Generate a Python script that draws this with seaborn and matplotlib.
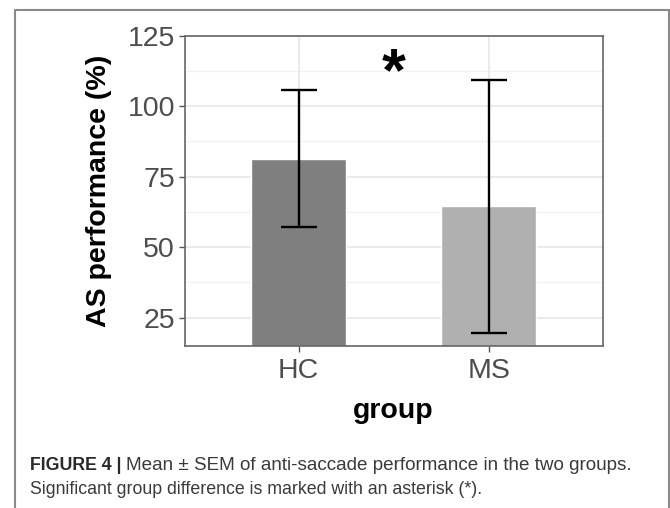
import matplotlib
matplotlib.use("Agg")
import matplotlib.pyplot as plt
import seaborn as sns
import pandas as pd
from matplotlib.lines import Line2D

groups = ["HC", "MS"]
means = [81.3, 64.5]
sems = [24.3, 44.8]
bar_colors = ["#7f7f7f", "#b0b0b0"]
yticks = [25, 50, 75, 100, 125]
minor_ticks = [37.5, 62.5, 87.5, 112.5]
star_label = "*"
x_title = "group"
y_title = "AS performance (%)"
cap_bold = "FIGURE 4 | "
cap_line1 = "Mean \u00b1 SEM of anti-saccade performance in the two groups."
cap_line2 = "Significant group difference is marked with an asterisk (*)."

sns.set_theme(style="white")
plt.rcParams["font.family"] = ["Liberation Sans", "DejaVu Sans"]

df = pd.DataFrame({"group": groups, "mean": means, "sem": sems})

fig = plt.figure(figsize=(6.7, 5.08), dpi=100)
ax = fig.add_axes([184.6 / 670, 162 / 508, 418 / 670, 310.5 / 508])

ax.set_axisbelow(True)
for v in yticks:
    ax.axhline(v, color="#ebebeb", lw=1.4, zorder=0)
for v in minor_ticks:
    ax.axhline(v, color="#f2f2f2", lw=0.9, zorder=0)
for i in range(len(groups)):
    ax.axvline(i, color="#ebebeb", lw=1.4, zorder=0)

sns.barplot(data=df, x="group", y="mean", hue="group", palette=bar_colors,
            width=0.5, ax=ax, legend=False, saturation=1, zorder=2)
ax.errorbar(x=range(len(groups)), y=df["mean"], yerr=df["sem"], fmt="none",
            ecolor="black", elinewidth=1.7, capsize=13.3, capthick=1.7, zorder=3)

ax.set_xlim(-0.6, 1.6)
ax.set_ylim(15, 125)
ax.set_yticks(yticks)
ax.set_yticklabels([str(v) for v in yticks])
ax.tick_params(axis="both", which="major", length=4, width=1, color="#555555",
               labelsize=20.5, labelcolor="#4d4d4d", left=True, bottom=True)
ax.tick_params(axis="x", pad=5)
ax.tick_params(axis="y", pad=3)
for s in ax.spines.values():
    s.set_color("#666666")
    s.set_linewidth(1.2)
ax.set_xlabel(x_title, fontsize=20.5, fontweight="bold", color="black", labelpad=10)
ax.set_ylabel(y_title, fontsize=20.5, fontweight="bold", color="black", labelpad=11)

ax.text(0.5, 111, star_label, ha="center", va="center", fontsize=44,
        fontweight="bold", color="black")

# outer frame
fc = "#8a8a8a"
fig.add_artist(Line2D([15 / 670, 15 / 670], [0, 1 - 10 / 508], transform=fig.transFigure, color=fc, lw=1.5))
fig.add_artist(Line2D([15 / 670, 668.5 / 670], [1 - 10 / 508, 1 - 10 / 508], transform=fig.transFigure, color=fc, lw=1.5))
fig.add_artist(Line2D([668.5 / 670, 668.5 / 670], [0, 1 - 10 / 508], transform=fig.transFigure, color=fc, lw=1.5))

t1 = fig.text(30 / 670, 1 - 465 / 508, cap_bold, fontsize=12.8, fontweight="bold",
              color="#2a2a2a", va="center", ha="left")
fig.canvas.draw()
bb = t1.get_window_extent(renderer=fig.canvas.get_renderer())
fig.text(bb.x1 / 670, 1 - 465 / 508, cap_line1, fontsize=13.6, color="#3a3a3a",
         va="center", ha="left")
fig.text(30 / 670, 1 - 490 / 508, cap_line2, fontsize=12.8, color="#3a3a3a",
         va="center", ha="left")

fig.savefig("out.png", dpi=100)
